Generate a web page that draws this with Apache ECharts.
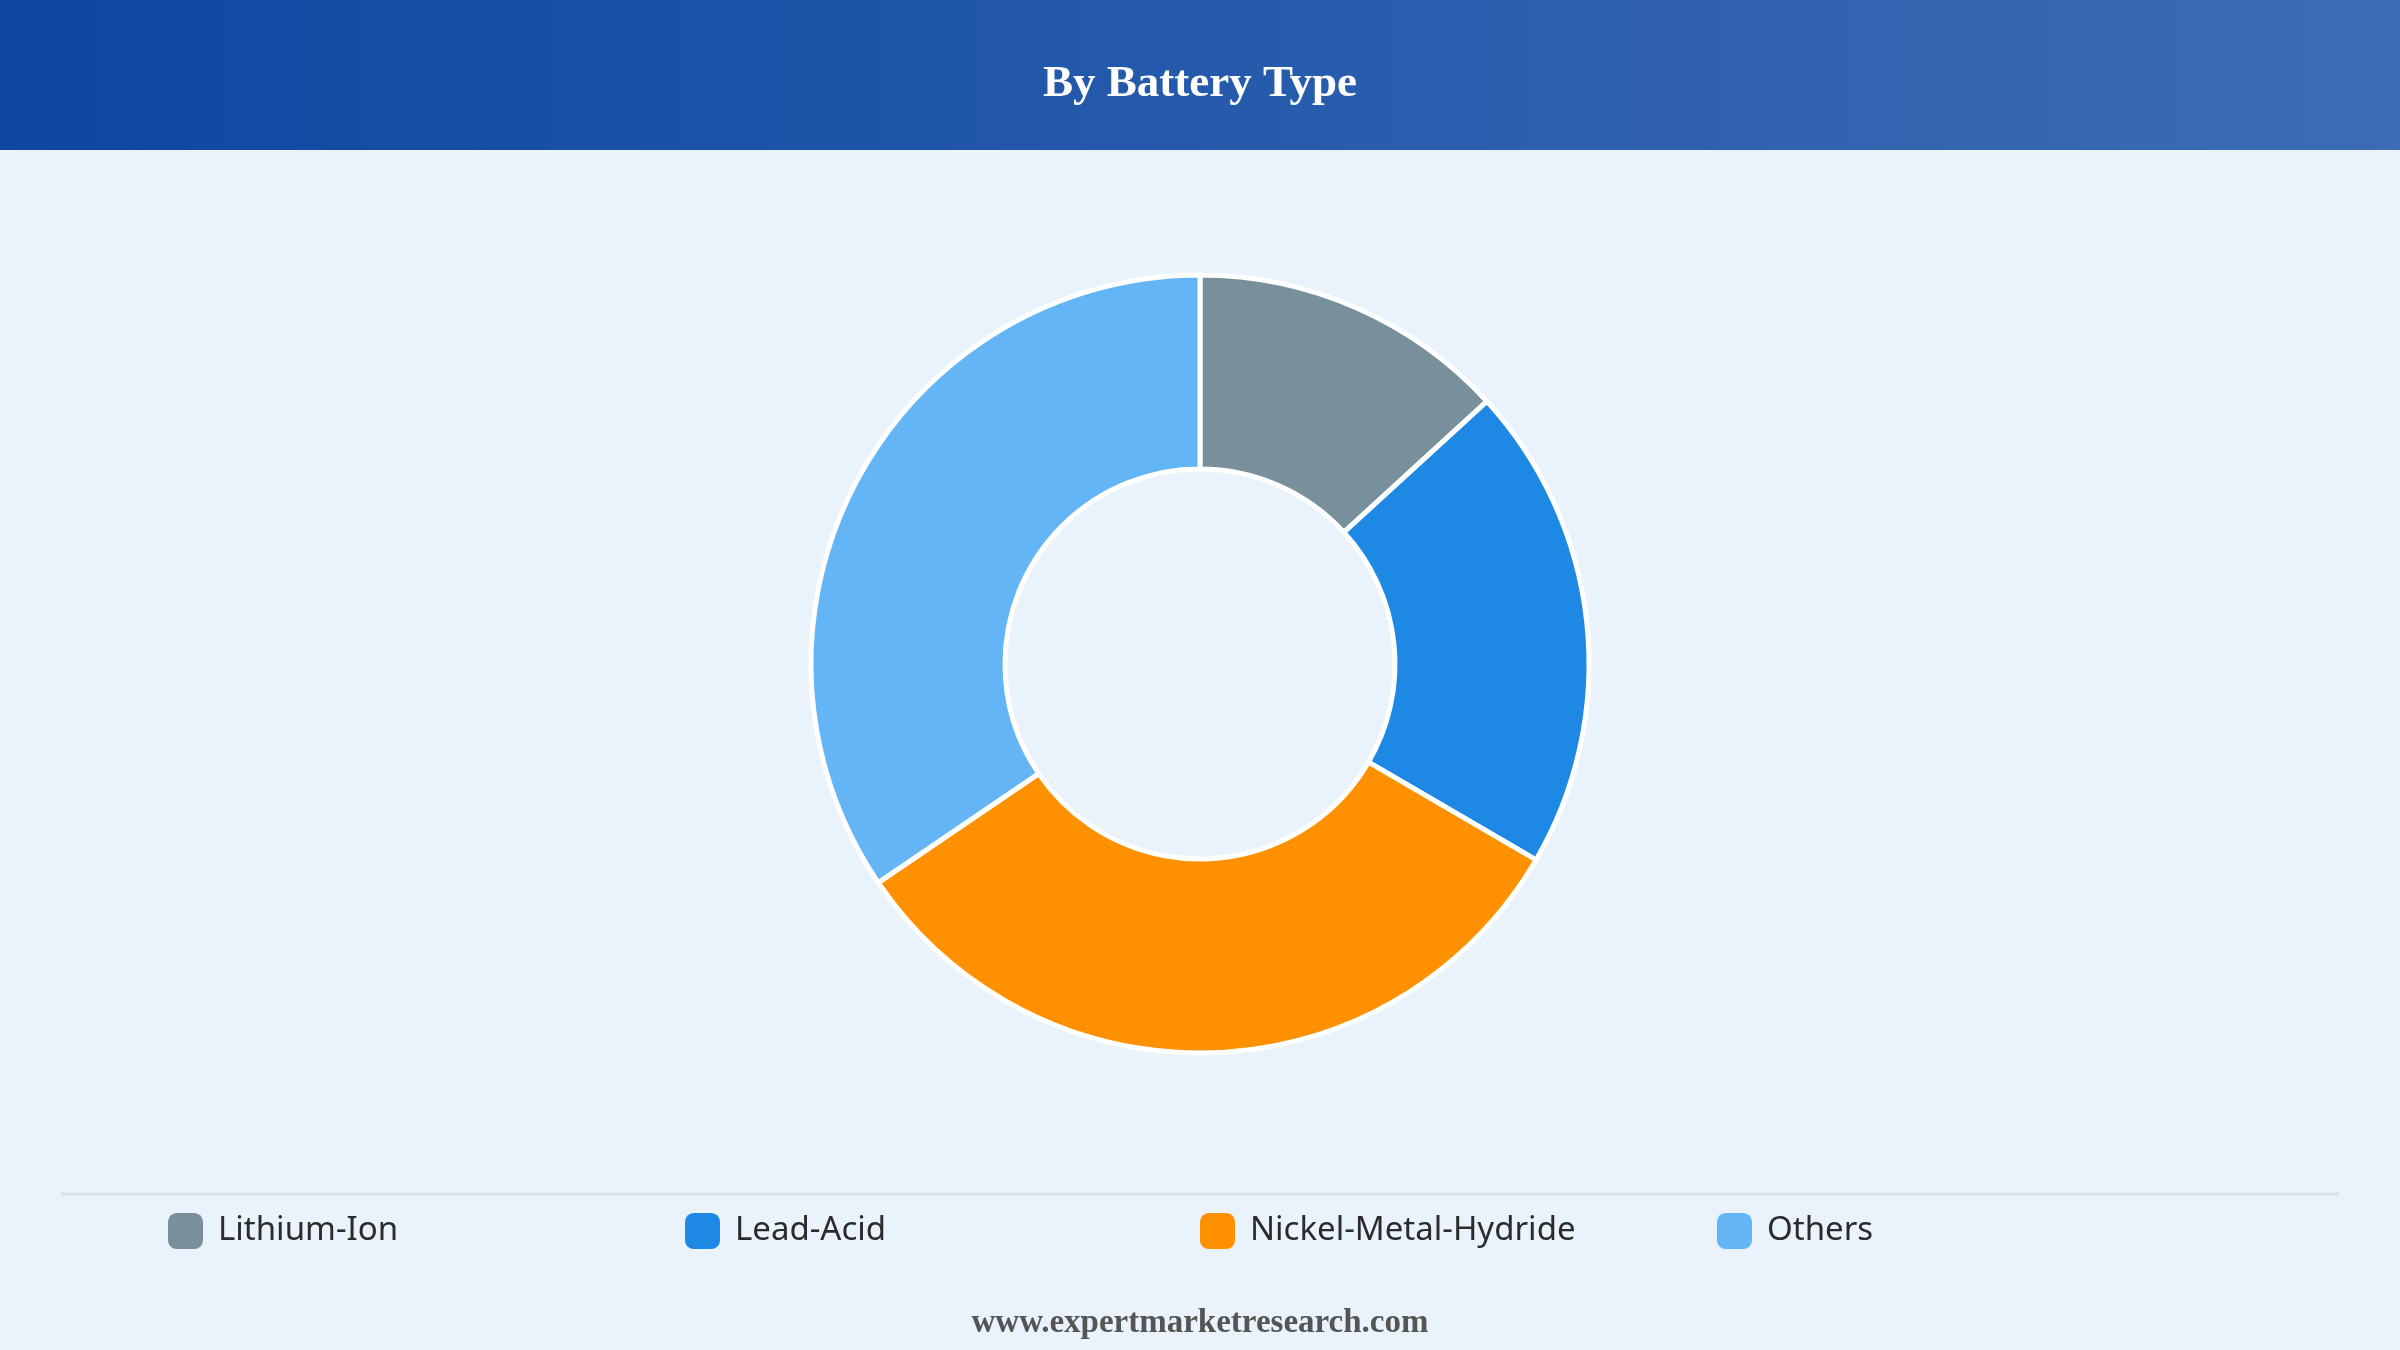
<!DOCTYPE html>
<html>
<head>
<meta charset="utf-8">
<script src="https://cdn.jsdelivr.net/npm/echarts@6/dist/echarts.min.js"></script>
<style>
html,body{margin:0;padding:0;background:#eaf2fc;}
#chart{width:2400px;height:1350px;}
</style>
</head>
<body>
<div id="chart"></div>
<script>
const categories = ['Lithium-Ion', 'Lead-Acid', 'Nickel-Metal-Hydride', 'Others'];
const values = [13.2, 20.2, 32.1, 34.5];
const colors = ['#78909c', '#1e88e5', '#ff9100', '#64b5f6'];
const titleText = 'By Battery Type';
const footerText = 'www.expertmarketresearch.com';
const legendLefts = [168, 685, 1200, 1717];

const chart = echarts.init(document.getElementById('chart'), null, {renderer: 'canvas'});

const legends = categories.map((c, i) => ({
  data: [c],
  left: legendLefts[i],
  top: 1213,
  padding: 0,
  orient: 'horizontal',
  icon: 'roundRect',
  itemWidth: 35,
  itemHeight: 36,
  itemStyle: {borderWidth: 0},
  selectedMode: false,
  textStyle: {
    fontFamily: 'Noto Sans',
    fontSize: 33,
    color: '#2b2b2b',
    padding: [0, 0, 0, 10]
  }
}));

const option = {
  backgroundColor: '#eaf2fc',
  animation: false,
  color: colors,
  legend: legends,
  graphic: [
    {
      type: 'rect',
      left: 0, top: 0,
      shape: {width: 2400, height: 150},
      style: {
        fill: new echarts.graphic.LinearGradient(0, 0, 1, 0, [
          {offset: 0, color: '#0d47a1'},
          {offset: 1, color: '#3d6cb5'}
        ])
      },
      z: 0
    },
    {
      type: 'text',
      x: 1200, y: 84,
      style: {
        text: titleText,
        fill: '#ffffff',
        font: 'bold 45px "Liberation Serif", "Times New Roman", serif',
        textAlign: 'center',
        textVerticalAlign: 'middle'
      },
      z: 1
    },
    {
      type: 'line',
      shape: {x1: 61, y1: 1194, x2: 2339, y2: 1194},
      style: {stroke: '#dcdfe4', lineWidth: 3},
      z: 1
    },
    {
      type: 'text',
      x: 1200, y: 1323,
      style: {
        text: footerText,
        fill: '#555555',
        font: 'bold 33px "Liberation Serif", "Times New Roman", serif',
        textAlign: 'center',
        textVerticalAlign: 'middle'
      },
      z: 1
    }
  ],
  series: [{
    type: 'pie',
    center: [1200, 664],
    radius: [195, 389],
    startAngle: 90,
    clockwise: true,
    label: {show: false},
    labelLine: {show: false},
    emphasis: {disabled: true},
    itemStyle: {borderColor: '#ffffff', borderWidth: 5},
    data: categories.map((c, i) => ({name: c, value: values[i]}))
  }]
};
chart.setOption(option);
</script>
</body>
</html>
